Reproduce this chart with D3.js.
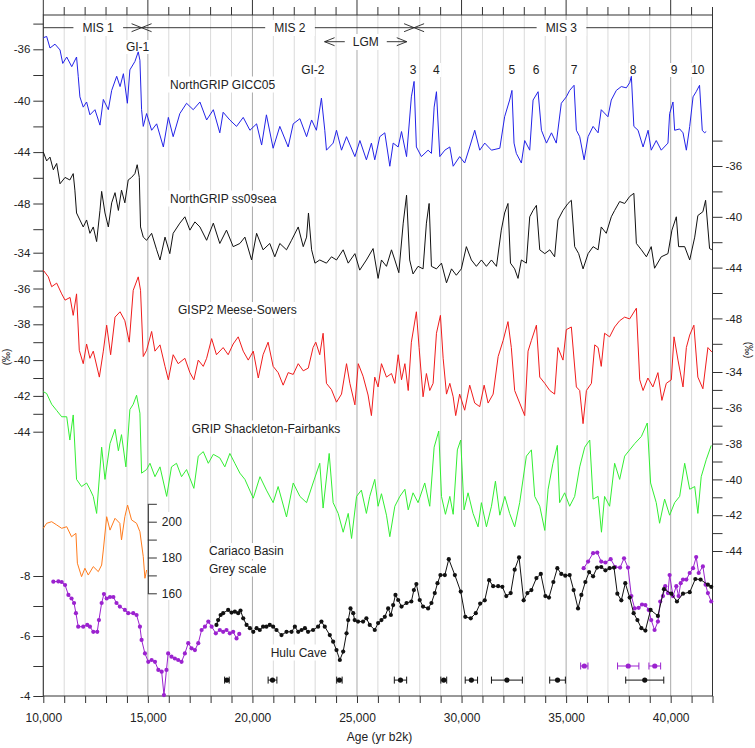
<!DOCTYPE html>
<html>
<head>
<meta charset="utf-8">
<script src="https://cdnjs.cloudflare.com/ajax/libs/d3/7.8.5/d3.min.js"></script>
<style>
  body { margin: 0; background: #fff; }
  svg { font-family: "Liberation Sans", Arial, Helvetica, sans-serif; }
</style>
</head>
<body>
<svg width="755" height="748"></svg>
<script>
// ---------------- data ----------------
// [age yr b2k, value]
var gicc05 = [[10000,-35.1],[10160,-35.0],[10320,-35.9],[10560,-35.6],[10800,-36.05],[10930,-37.1],[11120,-36.6],[11360,-37.35],[11590,-36.6],[11670,-38.1],[11750,-39.7],[11910,-40.5],[12070,-40.1],[12230,-41.1],[12470,-40.7],[12710,-41.9],[12870,-39.9],[13110,-40.7],[13270,-39.2],[13510,-38.1],[13670,-38.9],[13830,-37.9],[14020,-40.2],[14140,-37.6],[14380,-36.95],[14540,-36.2],[14620,-36.85],[14700,-40.7],[14780,-42.0],[14940,-41.0],[15180,-42.3],[15420,-41.8],[15740,-43.6],[15980,-41.3],[16210,-42.8],[16530,-41.0],[16850,-40.2],[17170,-40.7],[17490,-40.1],[17810,-41.5],[18130,-40.7],[18440,-42.5],[18600,-40.9],[18920,-41.5],[19240,-42.0],[19560,-41.3],[19880,-42.3],[20200,-41.8],[20440,-43.45],[20670,-41.1],[20990,-43.7],[21310,-42.0],[21710,-43.6],[21950,-41.8],[22270,-41.4],[22590,-42.8],[22830,-41.5],[23060,-42.3],[23300,-39.8],[23460,-42.3],[23540,-43.85],[23860,-43.3],[24020,-42.3],[24260,-43.85],[24500,-42.8],[24900,-44.35],[25140,-43.1],[25450,-44.6],[25690,-43.3],[25850,-44.6],[26090,-42.8],[26330,-42.5],[26570,-45.1],[26730,-43.3],[26970,-43.6],[27130,-42.4],[27370,-44.35],[27600,-39.7],[27730,-38.5],[27840,-43.6],[28080,-44.35],[28400,-43.85],[28560,-44.1],[28690,-40.5],[28800,-39.3],[28960,-44.35],[29200,-43.85],[29440,-43.6],[29600,-45.1],[29910,-44.35],[30150,-44.85],[30390,-43.6],[30630,-42.3],[30870,-43.85],[31110,-43.3],[31430,-43.85],[31830,-43.7],[32060,-41.25],[32300,-39.95],[32410,-39.2],[32510,-43.3],[32620,-44.1],[32860,-44.85],[33020,-43.1],[33260,-43.85],[33420,-39.95],[33660,-39.3],[33820,-42.3],[34060,-43.3],[34300,-42.5],[34530,-43.3],[34770,-40.2],[35010,-39.7],[35170,-39.2],[35380,-38.8],[35490,-42.3],[35650,-42.8],[35860,-44.6],[36050,-42.8],[36290,-42.0],[36530,-42.5],[36680,-40.7],[37000,-41.25],[37160,-39.95],[37400,-39.2],[37640,-38.9],[37880,-39.0],[38040,-38.6],[38120,-38.1],[38240,-42.0],[38440,-42.3],[38680,-43.6],[38920,-42.3],[39070,-43.85],[39310,-43.1],[39550,-43.85],[39870,-43.3],[39950,-41.0],[40110,-40.1],[40190,-42.3],[40430,-42.2],[40590,-42.5],[40750,-43.85],[40910,-42.0],[41070,-39.7],[41220,-39.3],[41380,-38.8],[41510,-42.3],[41620,-42.5],[41700,-42.4]];

var ss09sea = [[10000,-34.9],[10160,-35.6],[10320,-35.3],[10480,-36.3],[10640,-35.8],[10800,-37.4],[11040,-36.9],[11270,-37.1],[11430,-36.6],[11510,-37.9],[11590,-39.7],[11750,-40.25],[11910,-40.8],[12070,-40.25],[12230,-41.3],[12390,-40.8],[12550,-41.95],[12710,-39.5],[12790,-38.0],[12950,-39.7],[13110,-40.8],[13270,-38.9],[13430,-38.1],[13590,-39.5],[13740,-37.9],[13900,-38.9],[14060,-37.1],[14220,-36.9],[14380,-36.6],[14490,-35.9],[14590,-36.9],[14650,-40.8],[14780,-41.6],[14940,-41.85],[15180,-41.3],[15420,-42.6],[15580,-43.4],[15820,-41.6],[16050,-42.9],[16210,-41.3],[16530,-40.5],[16770,-40.0],[17010,-41.05],[17250,-40.4],[17490,-40.8],[17810,-41.85],[18130,-40.5],[18440,-42.1],[18760,-41.05],[19080,-42.35],[19400,-42.1],[19640,-41.6],[19960,-43.4],[20200,-41.3],[20510,-42.6],[20830,-42.1],[21070,-43.15],[21310,-42.1],[21630,-42.6],[21870,-41.85],[22190,-40.8],[22430,-42.35],[22590,-41.6],[22680,-39.7],[22830,-42.6],[22990,-43.65],[23220,-43.4],[23540,-43.65],[23780,-43.15],[24020,-43.4],[24340,-42.6],[24580,-43.65],[24900,-42.9],[25130,-44.2],[25450,-43.4],[25770,-42.5],[26010,-44.85],[26170,-43.4],[26410,-43.9],[26650,-42.6],[26810,-43.4],[27000,-44.4],[27210,-40.5],[27370,-38.3],[27520,-43.4],[27680,-44.5],[27920,-43.9],[28160,-44.1],[28320,-40.5],[28450,-38.95],[28560,-43.9],[28800,-44.1],[29040,-43.65],[29280,-45.2],[29520,-44.1],[29750,-44.6],[29990,-44.1],[30230,-42.35],[30470,-43.4],[30710,-43.9],[30950,-43.4],[31190,-43.9],[31430,-43.4],[31670,-43.9],[31900,-41.05],[32060,-39.7],[32220,-38.95],[32340,-43.65],[32540,-44.1],[32700,-44.85],[32860,-43.4],[33100,-43.65],[33260,-40.0],[33420,-39.5],[33580,-39.1],[33740,-42.6],[33980,-42.9],[34220,-42.6],[34450,-43.15],[34610,-40.25],[34850,-39.5],[35090,-38.95],[35250,-38.7],[35410,-42.35],[35600,-42.9],[35810,-44.1],[36050,-42.9],[36290,-42.35],[36530,-42.6],[36680,-40.8],[36920,-41.3],[37160,-40.0],[37320,-39.5],[37560,-38.8],[37800,-38.95],[38040,-38.4],[38240,-38.15],[38360,-42.1],[38600,-42.6],[38840,-43.15],[39070,-42.35],[39230,-44.05],[39550,-43.15],[39870,-42.9],[40060,-41.05],[40270,-40.0],[40380,-42.35],[40670,-42.35],[40910,-43.4],[41150,-41.6],[41300,-39.9],[41540,-39.6],[41670,-38.7],[41860,-42.5],[41970,-42.6]];

var gisp2 = [[10000,-34.98],[10240,-35.35],[10400,-35.9],[10640,-35.7],[10880,-36.3],[11040,-36.65],[11280,-36.5],[11430,-37.5],[11590,-36.3],[11720,-39.45],[11910,-40.2],[12070,-39.1],[12230,-39.9],[12390,-39.5],[12680,-40.95],[12870,-39.5],[13030,-38.05],[13220,-39.7],[13430,-37.6],[13670,-37.3],[13900,-37.8],[14110,-39.0],[14300,-36.1],[14540,-35.35],[14650,-36.1],[14780,-39.8],[14940,-39.45],[15180,-38.4],[15340,-39.5],[15580,-39.15],[15820,-40.35],[15980,-41.1],[16210,-39.7],[16450,-40.2],[16770,-39.9],[17010,-40.7],[17200,-41.1],[17410,-40.0],[17650,-40.35],[17810,-39.9],[18050,-38.8],[18280,-39.7],[18600,-39.3],[18840,-39.7],[19080,-39.1],[19320,-38.7],[19560,-39.5],[19800,-40.0],[20040,-39.5],[20280,-41.0],[20510,-39.7],[20750,-39.0],[20990,-40.35],[21230,-40.7],[21470,-41.4],[21710,-40.7],[21950,-40.8],[22190,-40.2],[22430,-40.6],[22670,-40.45],[22900,-39.3],[23030,-39.0],[23220,-39.7],[23380,-38.5],[23540,-41.3],[23780,-41.65],[24020,-42.35],[24260,-41.9],[24500,-40.2],[24660,-41.3],[24900,-42.5],[25060,-40.2],[25290,-40.9],[25530,-41.95],[25690,-43.1],[25850,-40.95],[26010,-41.5],[26170,-40.2],[26410,-40.95],[26650,-40.75],[26810,-41.3],[26970,-39.7],[27130,-41.1],[27290,-40.2],[27450,-41.7],[27600,-39.0],[27840,-37.3],[27970,-39.3],[28160,-42.05],[28320,-40.75],[28480,-41.7],[28640,-41.3],[28800,-38.5],[28990,-37.5],[29120,-39.9],[29280,-41.9],[29440,-41.3],[29600,-42.05],[29720,-43.1],[29910,-41.9],[30150,-42.8],[30390,-41.4],[30630,-42.4],[30870,-42.6],[31080,-41.4],[31270,-42.4],[31510,-41.9],[31750,-39.8],[31990,-38.9],[32220,-37.85],[32380,-39.3],[32540,-41.7],[32780,-42.4],[33020,-43.1],[33180,-39.5],[33340,-38.9],[33580,-38.05],[33740,-40.95],[33980,-41.3],[34220,-41.7],[34450,-41.9],[34610,-39.3],[34850,-40.0],[35010,-38.3],[35250,-38.15],[35490,-41.5],[35650,-41.7],[35810,-43.55],[35970,-41.7],[36210,-41.3],[36370,-39.15],[36530,-39.3],[36680,-40.35],[36840,-38.5],[37080,-38.7],[37320,-38.15],[37560,-37.8],[37800,-37.6],[38040,-37.7],[38360,-37.1],[38520,-41.1],[38680,-41.7],[38910,-41.0],[39150,-41.5],[39390,-40.7],[39580,-42.25],[39790,-41.3],[40030,-41.1],[40160,-38.7],[40350,-40.0],[40590,-41.5],[40750,-39.3],[40910,-38.6],[41110,-38.05],[41300,-40.95],[41540,-41.6],[41780,-39.3],[41970,-39.55]];

var grip = [[10000,-35.1],[10160,-35.2],[10400,-35.8],[10640,-36.15],[10880,-36.5],[11120,-36.5],[11270,-37.8],[11430,-36.4],[11590,-40.0],[11830,-40.4],[12070,-40.2],[12230,-40.55],[12390,-40.95],[12550,-41.9],[12790,-38.2],[12950,-40.0],[13190,-38.0],[13430,-37.2],[13590,-38.4],[13740,-37.5],[13950,-39.3],[14140,-36.1],[14300,-35.8],[14460,-35.3],[14620,-36.3],[14700,-39.65],[14940,-39.45],[15100,-39.1],[15340,-39.85],[15580,-39.3],[15900,-40.95],[16130,-39.3],[16370,-39.1],[16610,-39.85],[16850,-39.45],[17200,-40.5],[17410,-38.7],[17650,-38.45],[17890,-39.1],[18130,-38.6],[18440,-38.8],[18680,-39.3],[18920,-38.55],[19160,-39.1],[19400,-39.65],[19640,-40.0],[20040,-41.05],[20360,-39.85],[20670,-40.6],[20990,-41.3],[21230,-40.4],[21630,-42.1],[21950,-40.2],[22270,-40.95],[22590,-41.3],[22900,-40.2],[23220,-39.1],[23380,-41.6],[23670,-38.55],[23860,-41.3],[24100,-41.9],[24340,-42.95],[24580,-41.9],[24740,-43.3],[24980,-40.95],[25210,-40.6],[25450,-41.9],[25610,-40.95],[25850,-40.0],[26010,-41.5],[26170,-40.8],[26410,-42.0],[26570,-43.2],[26810,-41.5],[27050,-40.95],[27290,-40.55],[27450,-41.7],[27680,-40.75],[27920,-41.3],[28240,-40.2],[28480,-41.5],[28690,-38.2],[28910,-37.3],[29040,-40.95],[29230,-41.95],[29440,-40.95],[29600,-41.95],[29800,-38.35],[29960,-37.8],[30120,-41.7],[30310,-40.75],[30550,-41.9],[30790,-42.65],[30950,-41.3],[31190,-42.65],[31430,-41.5],[31620,-40.1],[31830,-42.0],[32070,-40.95],[32300,-41.9],[32540,-42.65],[32780,-41.3],[33100,-38.7],[33340,-38.35],[33500,-40.95],[33740,-41.5],[33980,-42.85],[34140,-40.55],[34370,-39.1],[34580,-38.1],[34690,-41.3],[34930,-40.75],[35170,-41.5],[35410,-40.95],[35650,-39.3],[35890,-38.2],[36130,-37.8],[36290,-41.1],[36530,-40.95],[36690,-42.95],[36840,-40.95],[37080,-41.5],[37320,-39.1],[37560,-40.0],[37800,-38.7],[38040,-38.35],[38280,-38.0],[38600,-37.6],[38880,-36.85],[39040,-40.2],[39310,-41.3],[39470,-42.45],[39710,-41.1],[39950,-42.0],[40190,-41.3],[40430,-40.95],[40670,-39.1],[40910,-40.55],[41150,-40.4],[41300,-41.9],[41460,-39.85],[41700,-38.9],[41940,-38.1]];

var cariaco = [[10000,196.3],[10160,199.1],[10400,200],[10640,198.2],[10880,196.3],[11120,197.2],[11350,191.6],[11560,193.5],[11630,176.8],[11830,169.3],[11990,174.0],[12150,170.2],[12390,174.9],[12630,172.1],[12790,175.8],[12870,184.2],[13030,202.8],[13190,195.3],[13430,201.9],[13660,199.1],[13740,189.8],[13900,202.8],[14030,209.3],[14220,201.0],[14460,199.1],[14620,194.4],[14780,180.5],[14860,168.4],[14940,173.0]];

var huluYoung = [[10480,-7.81],[10720,-7.82],[10880,-7.80],[11040,-7.7],[11200,-7.37],[11350,-7.25],[11470,-7.1],[11560,-6.76],[11670,-6.31],[11910,-6.31],[12100,-6.37],[12230,-6.31],[12390,-6.14],[12580,-6.14],[12660,-6.53],[12790,-7.1],[12900,-7.4],[13030,-7.25],[13190,-7.3],[13350,-7.3],[13500,-7.1],[13660,-6.98],[13900,-6.87],[14060,-6.76],[14300,-6.76],[14460,-6.7],[14620,-6.31],[14700,-5.87],[14860,-5.42],[15020,-5.14],[15180,-5.2],[15340,-5.14],[15500,-4.87],[15660,-4.81],[15770,-4.03],[15890,-4.87],[15970,-5.42],[16130,-5.31],[16290,-5.25],[16450,-5.2],[16610,-5.14],[16770,-5.42],[16930,-5.76],[17090,-5.59],[17250,-5.53],[17410,-5.76],[17570,-6.2],[17730,-6.31],[17890,-6.48],[18050,-6.31],[18250,-6.09],[18440,-6.2],[18600,-6.14],[18760,-6.2],[18920,-6.09],[19080,-6.14],[19240,-5.92],[19370,-6.07]];

var huluMain = [[18280,-6.37],[18360,-6.53],[18480,-6.7],[18600,-6.76],[18840,-6.87],[19000,-6.78],[19160,-6.81],[19320,-6.76],[19430,-6.85],[19560,-6.59],[19720,-6.37],[19880,-6.26],[20040,-6.14],[20200,-6.26],[20350,-6.2],[20510,-6.31],[20670,-6.31],[20830,-6.37],[20990,-6.31],[21150,-6.2],[21390,-6.03],[21630,-6.14],[21870,-6.14],[22030,-6.31],[22190,-6.14],[22350,-6.2],[22510,-6.26],[22660,-6.14],[22900,-6.2],[23140,-6.31],[23300,-6.48],[23460,-6.31],[23700,-6.03],[23860,-5.81],[24020,-5.53],[24180,-5.2],[24340,-5.48],[24500,-6.09],[24580,-6.53],[24690,-6.92],[24820,-6.76],[24890,-6.53],[25050,-6.48],[25290,-6.48],[25450,-6.59],[25610,-6.37],[25850,-6.2],[26010,-6.43],[26170,-6.53],[26330,-6.64],[26490,-6.92],[26620,-6.7],[26730,-7.03],[26840,-7.37],[26970,-7.2],[27130,-6.98],[27370,-7.1],[27600,-7.15],[27720,-7.53],[27840,-7.73],[28000,-7.2],[28160,-6.98],[28400,-6.92],[28560,-7.1],[28720,-7.43],[28850,-7.76],[28990,-8.03],[29200,-8.03],[29390,-8.56],[29680,-8.03],[29960,-7.48],[30180,-6.64],[30440,-6.59],[30680,-6.76],[30890,-7.08],[31110,-7.19],[31320,-7.86],[31510,-7.66],[31750,-7.66],[31950,-7.64],[32140,-7.33],[32350,-7.43],[32540,-8.21],[32750,-8.62],[32970,-7.19],[33150,-7.43],[33340,-7.53],[33580,-7.93],[33790,-8.07],[34010,-7.33],[34180,-7.28],[34390,-7.8],[34580,-8.26],[34770,-8.07],[34960,-8.01],[35170,-8.03],[35360,-7.53],[35570,-6.92],[35730,-7.37],[35920,-7.8],[36100,-8.13],[36290,-7.99],[36480,-8.28],[36680,-8.3],[36880,-8.19],[37080,-8.26],[37290,-8.28],[37450,-7.41],[37640,-7.19],[37830,-7.76],[38040,-7.28],[38230,-6.76],[38410,-6.53],[38600,-6.26],[38790,-6.18],[39040,-6.87],[39390,-6.67],[39680,-7.56],[40030,-7.41],[40300,-7.15],[40590,-7.41],[40910,-7.46],[41180,-7.9],[41430,-7.88],[41780,-7.71],[41940,-7.64]];

var huluOld = [[35840,-8.26],[36050,-8.48],[36290,-8.76],[36490,-8.78],[36680,-8.48],[36880,-8.45],[37130,-8.56],[37350,-8.3],[37580,-8.28],[37770,-8.59],[37960,-8.28],[38120,-7.33],[38280,-6.92],[38470,-6.94],[38630,-7.05],[38790,-7.03],[38950,-6.87],[39070,-6.53],[39230,-6.2],[39390,-6.48],[39500,-7.15],[39630,-7.33],[39740,-7.66],[39870,-7.43],[39950,-8.03],[40110,-7.33],[40270,-7.66],[40380,-7.33],[40480,-7.76],[40590,-7.88],[40750,-7.88],[40910,-8.1],[41070,-8.26],[41220,-8.63],[41340,-8.1],[41540,-8.32],[41670,-7.71],[41780,-7.43],[41940,-7.15]];

// U/Th dates: [age, +/- error]
var datesBlack = [[18780,110],[20960,210],[24160,130],[27080,295],[29150,140],[30470,295],[32170,740],[34590,375],[38760,910]];
var datesPurple = [[35870,175],[37970,510],[39240,280]];

var misBounds = [14700, 27730];
var misLabels = [["MIS 1", 12620], ["MIS 2", 21790], ["MIS 3", 34770]];
var lgm = [23450, 27380];
var giLabels = [["GI-1", 14510], ["GI-2", 22890], ["3", 27680], ["4", 28800], ["5", 32410], ["6", 33560], ["7", 35380], ["8", 38200], ["9", 40160], ["10", 41300]];

// ---------------- layout ----------------
var svg = d3.select("svg");
var plotTop = 15, plotBottom = 696;
var ink = "#222";

var x = d3.scaleLinear().domain([10000, 42000]).range([43.3, 712.5]);
var yGicc = d3.scaleLinear().domain([-36, -40]).range([49.3, 100.7]);
var yNgrip = d3.scaleLinear().domain([-36, -40]).range([166, 216.8]);
var yGisp = d3.scaleLinear().domain([-34, -44]).range([252.7, 431.7]);
var yGrip = d3.scaleLinear().domain([-34, -44]).range([372, 551]);
var yHulu = d3.scaleLinear().domain([-8, -4]).range([576, 696]);
var yCar = d3.scaleLinear().domain([210, 160]).range([503.8, 593.3]);

var x0 = x.range()[0], x1 = x.range()[1];
var kyears = d3.range(10000, 42001, 1000);

// grid
svg.append("g").selectAll("line").data(kyears).enter().append("line")
  .attr("x1", d => x(d)).attr("x2", d => x(d))
  .attr("y1", plotTop).attr("y2", plotBottom)
  .attr("stroke", d => d % 5000 === 0 ? "#a9a9a9" : "#dadada")
  .attr("stroke-width", 1);

// MIS line + arrows
var mis = svg.append("g").attr("stroke", ink).attr("fill", "none").attr("stroke-width", 0.9);
var misY = 27.7;
mis.append("line").attr("x1", x0).attr("x2", x1).attr("y1", misY).attr("y2", misY);
misBounds.forEach(function(b) {
  var bx = x(b);
  mis.append("path").attr("d", "M" + (bx - 10) + "," + (misY - 4) + "L" + bx + "," + misY + "L" + (bx - 10) + "," + (misY + 4));
  mis.append("path").attr("d", "M" + (bx + 10) + "," + (misY - 4) + "L" + bx + "," + misY + "L" + (bx + 10) + "," + (misY + 4));
});
var lgmY = 41.7;
mis.append("line").attr("x1", x(lgm[0])).attr("x2", x(lgm[1])).attr("y1", lgmY).attr("y2", lgmY);
mis.append("path").attr("d", "M" + (x(lgm[0]) + 10) + "," + (lgmY - 4) + "L" + x(lgm[0]) + "," + lgmY + "L" + (x(lgm[0]) + 10) + "," + (lgmY + 4));
mis.append("path").attr("d", "M" + (x(lgm[1]) - 10) + "," + (lgmY - 4) + "L" + x(lgm[1]) + "," + lgmY + "L" + (x(lgm[1]) - 10) + "," + (lgmY + 4));

var boxLayer = svg.append("g");

// frame
svg.append("rect").attr("x", x0).attr("y", plotTop).attr("width", x1 - x0).attr("height", plotBottom - plotTop)
  .attr("fill", "none").attr("stroke", "#333").attr("stroke-width", 1);

// top ticks
svg.append("g").selectAll("line").data(kyears).enter().append("line")
  .attr("x1", d => x(d)).attr("x2", d => x(d))
  .attr("y1", plotTop).attr("y2", d => d % 5000 === 0 ? 0 : plotTop - 8)
  .attr("stroke", "#333");

function styleAxis(g, size) {
  g.attr("font-family", null).attr("font-size", size).attr("color", "#333");
  g.selectAll(".domain").remove();
  g.selectAll("text").attr("fill", ink);
}

function sideAxis(scale, majors, minors, side) {
  var tx = side === "left" ? x0 : x1;
  var mk = side === "left" ? d3.axisLeft : d3.axisRight;
  var g1 = svg.append("g").attr("transform", "translate(" + tx + ",0)")
    .call(mk(scale).tickValues(majors).tickSize(10).tickPadding(3).tickFormat(d => String(d)));
  styleAxis(g1, 11.5);
  var g2 = svg.append("g").attr("transform", "translate(" + tx + ",0)")
    .call(mk(scale).tickValues(minors).tickSize(10).tickFormat(""));
  styleAxis(g2, 11.5);
}

sideAxis(yGicc, [-36, -40, -44, -48], [-34, -38, -42, -46, -50], "left");
sideAxis(yGisp, [-34, -36, -38, -40, -42, -44], [-35, -37, -39, -41, -43], "left");
sideAxis(yHulu, [-8, -6, -4], [-7, -5], "left");
sideAxis(yNgrip, [-36, -40, -44, -48], [-34, -38, -42, -46, -50], "right");
sideAxis(yGrip, [-34, -36, -38, -40, -42, -44], [-35, -37, -39, -41, -43], "right");

// bottom axis
var gx = svg.append("g").attr("transform", "translate(0," + plotBottom + ")")
  .call(d3.axisBottom(x).tickValues(kyears).tickSize(7).tickPadding(10)
    .tickFormat(d => d % 5000 === 0 ? d3.format(",")(d) : ""));
styleAxis(gx, 12);

// Cariaco grey-scale axis
var gc = svg.append("g").attr("transform", "translate(" + x(15000) + ",0)")
  .call(d3.axisRight(yCar).tickValues([210, 200, 190, 180, 170, 160]).tickSize(9).tickSizeOuter(0).tickPadding(5)
    .tickFormat(d => d % 20 === 0 ? String(d) : ""));
gc.attr("font-family", null).attr("font-size", 12).attr("color", "#333");
gc.selectAll("text").attr("fill", ink);
boxLayer.append("rect").attr("x", x(15000) + 11).attr("y", 512).attr("width", 26).attr("height", 88).attr("fill", "#fff");

// ---------------- series ----------------
function drawLine(data, ys, color, w) {
  svg.append("path").datum(data)
    .attr("d", d3.line().x(d => x(d[0])).y(d => ys(d[1])))
    .attr("fill", "none").attr("stroke", color).attr("stroke-width", w || 1)
    .attr("stroke-linejoin", "round");
}
function drawDots(data, ys, color) {
  drawLine(data, ys, color, 1);
  svg.append("g").selectAll("circle").data(data).enter().append("circle")
    .attr("cx", d => x(d[0])).attr("cy", d => ys(d[1])).attr("r", 2.1).attr("fill", color);
}

drawLine(gicc05, yGicc, "#2323e8");
drawLine(ss09sea, yNgrip, "#111");
drawLine(gisp2, yGisp, "#f01c1c");
drawLine(grip, yGrip, "#33ee33");
drawLine(cariaco, yCar, "#ff7b1c");
drawDots(huluYoung, yHulu, "#9b22cf");
drawDots(huluOld, yHulu, "#9b22cf");
drawDots(huluMain, yHulu, "#111");

function drawDates(data, yv, color) {
  var g = svg.append("g").attr("stroke", color).attr("fill", color);
  var yy = yHulu(yv);
  data.forEach(function(d) {
    var a = x(d[0] - d[1]), b = x(d[0] + d[1]);
    g.append("line").attr("x1", a).attr("x2", b).attr("y1", yy).attr("y2", yy);
    g.append("line").attr("x1", a).attr("x2", a).attr("y1", yy - 3.5).attr("y2", yy + 3.5);
    g.append("line").attr("x1", b).attr("x2", b).attr("y1", yy - 3.5).attr("y2", yy + 3.5);
    g.append("circle").attr("cx", x(d[0])).attr("cy", yy).attr("r", 2.6).attr("stroke", "none");
  });
}
drawDates(datesBlack, -4.53, "#111");
drawDates(datesPurple, -5.0, "#9b22cf");

// ---------------- text ----------------
var textLayer = svg.append("g").attr("fill", ink);
function boxedText(txt, px, py, anchor, size, padX, padY) {
  var t = textLayer.append("text").attr("x", px).attr("y", py)
    .attr("text-anchor", anchor || "start").attr("font-size", size || 12).text(txt);
  var b = t.node().getBBox();
  padX = padX === undefined ? 2 : padX;
  padY = padY === undefined ? 1 : padY;
  boxLayer.append("rect").attr("x", b.x - padX).attr("y", b.y - padY)
    .attr("width", b.width + 2 * padX).attr("height", b.height + 2 * padY).attr("fill", "#fff");
  return t;
}

misLabels.forEach(function(m) { boxedText(m[0], x(m[1]), misY + 4.3, "middle", 12, 9, 1); });
boxedText("LGM", x(25420), lgmY + 4.3, "middle", 12, 8, 1);
giLabels.forEach(function(g, i) { boxedText(g[0], x(g[1]), i === 0 ? 51 : 74, "middle", 12, 1, 0); });

boxedText("NorthGRIP GICC05", 170, 88.5, "start", 12);
boxedText("NorthGRIP ss09sea", 170, 202.5, "start", 12);
boxedText("GISP2 Meese-Sowers", 178, 314, "start", 12);
boxedText("GRIP Shackleton-Fairbanks", 191.7, 432.5, "start", 12);
boxedText("Cariaco Basin", 209, 555, "start", 12);
boxedText("Grey scale", 209, 572.5, "start", 12);
boxedText("Hulu Cave", 270.7, 656.5, "start", 12);

textLayer.append("text").attr("x", 379.5).attr("y", 741).attr("text-anchor", "middle")
  .attr("font-size", 12).text("Age (yr b2k)");
textLayer.append("text").attr("transform", "translate(10,357) rotate(-90)")
  .attr("text-anchor", "middle").attr("font-size", 10).text("(‰)");
textLayer.append("text").attr("transform", "translate(745,350) rotate(90)")
  .attr("text-anchor", "middle").attr("font-size", 10).text("(‰)");
</script>
</body>
</html>
